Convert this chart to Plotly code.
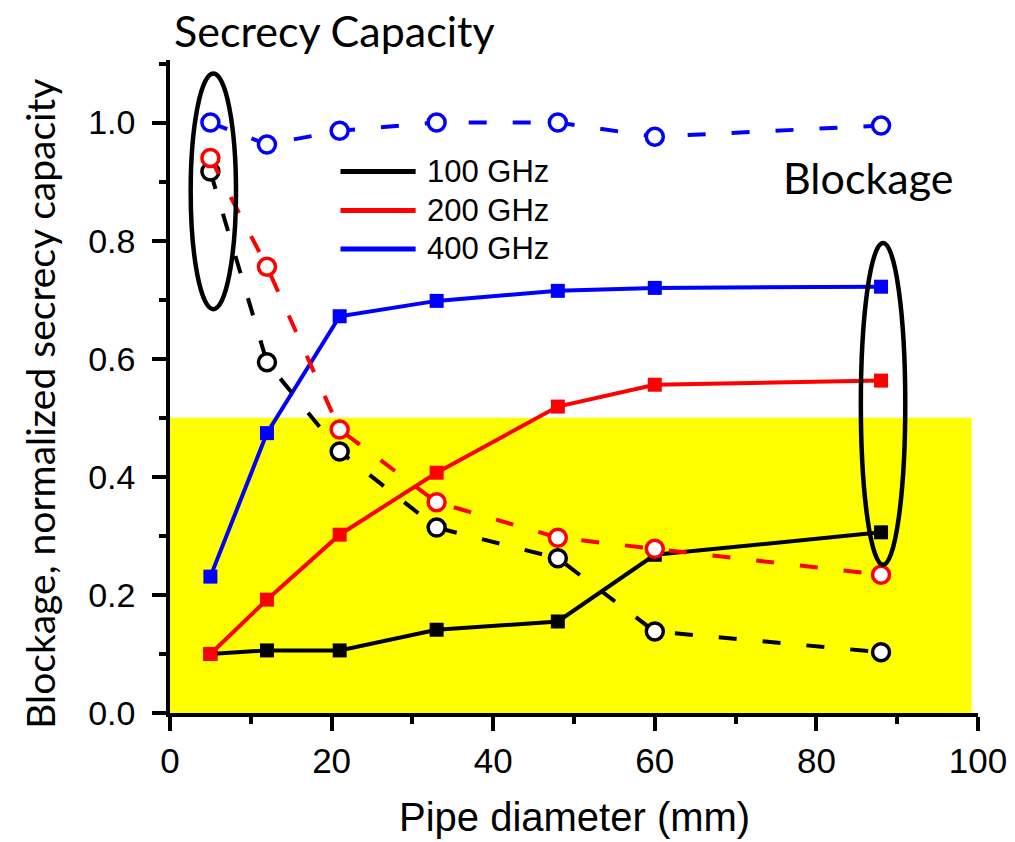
import plotly.graph_objects as go

# ---------------- data ----------------
diameter_mm = [5, 12, 21, 33, 48, 60, 88]

blockage_100 = [0.100, 0.106, 0.106, 0.141, 0.155, 0.268, 0.306]
blockage_200 = [0.100, 0.192, 0.302, 0.407, 0.519, 0.556, 0.563]
blockage_400 = [0.231, 0.474, 0.672, 0.698, 0.715, 0.720, 0.722]

secrecy_100 = [0.917, 0.594, 0.443, 0.314, 0.262, 0.138, 0.103]
secrecy_200 = [0.940, 0.756, 0.480, 0.357, 0.297, 0.278, 0.234]
secrecy_400 = [1.000, 0.963, 0.986, 1.000, 1.000, 0.976, 0.995]

legend_labels = ["100 GHz", "200 GHz", "400 GHz"]
colors = ["#000000", "#FF0000", "#0000FF"]

x_ticks = [0, 20, 40, 60, 80, 100]
y_ticks = [0.0, 0.2, 0.4, 0.6, 0.8, 1.0]

ARIAL = "Liberation Sans, Arial, sans-serif"
CAL = "Lato, Carlito, Calibri, sans-serif"

fig = go.Figure()

# blockage (solid, filled squares)
for yv, c in zip([blockage_100, blockage_200, blockage_400], colors):
    fig.add_trace(go.Scatter(
        x=diameter_mm, y=yv, mode="lines+markers",
        line=dict(color=c, width=4),
        marker=dict(symbol="square", size=14, color=c, line=dict(width=0)),
        showlegend=False, hoverinfo="skip"))

# secrecy capacity (dashed, open circles)
for yv, c in zip([secrecy_100, secrecy_200, secrecy_400], colors):
    fig.add_trace(go.Scatter(
        x=diameter_mm, y=yv, mode="lines+markers",
        line=dict(color=c, width=4, dash="18px,26px"),
        marker=dict(symbol="circle", size=17, color="white",
                    line=dict(color=c, width=3.5)),
        showlegend=False, hoverinfo="skip"))

shapes = []
# yellow region
shapes.append(dict(type="rect", xref="x", yref="y", x0=0, x1=99.2, y0=0, y1=0.5,
                   fillcolor="#FFFF00", line=dict(width=0), layer="below"))
# ellipses
shapes.append(dict(type="circle", xref="x", yref="y", x0=2.56, x1=8.17, y0=0.684, y1=1.083,
                   line=dict(color="black", width=4.5), layer="above"))
shapes.append(dict(type="circle", xref="x", yref="y", x0=85.5, x1=91.0, y0=0.251, y1=0.796,
                   line=dict(color="black", width=4.5), layer="above"))

# manual legend
legend_y = [0.917, 0.851, 0.786]
annotations = []
for lab, c, ly in zip(legend_labels, colors, legend_y):
    shapes.append(dict(type="line", xref="x", yref="y", x0=21.1, x1=30.4, y0=ly, y1=ly,
                       line=dict(color=c, width=5)))
    annotations.append(dict(text=lab, xref="x", yref="y", x=31.6, y=ly, xanchor="left",
                            yanchor="middle", showarrow=False,
                            font=dict(family=ARIAL, size=31, color="black")))

def py(p):
    return (713.3 - p) / 653.3

annotations += [
    dict(text="Secrecy Capacity", xref="paper", yref="paper", x=(334 - 170) / 808, y=py(30),
         xanchor="center", yanchor="middle", showarrow=False,
         font=dict(family=CAL, size=43, color="black")),
    dict(text="Blockage", xref="paper", yref="paper", x=(868 - 170) / 808, y=py(178),
         xanchor="center", yanchor="middle", showarrow=False,
         font=dict(family=CAL, size=43, color="black")),
    dict(text="Blockage, normalized secrecy capacity", xref="paper", yref="paper",
         x=(40 - 170) / 808, y=py(404), textangle=-90,
         xanchor="center", yanchor="middle", showarrow=False,
         font=dict(family=CAL, size=39, color="black")),
    dict(text="Pipe diameter (mm)", xref="paper", yref="paper", x=(574 - 170) / 808, y=py(817),
         xanchor="center", yanchor="middle", showarrow=False,
         font=dict(family=ARIAL, size=40, color="black")),
]

fig.update_layout(
    width=1015, height=842,
    margin=dict(l=170, r=37, t=60, b=128.7, autoexpand=False),
    paper_bgcolor="white", plot_bgcolor="white",
    shapes=shapes, annotations=annotations,
    showlegend=False,
)
fig.update_xaxes(
    range=[0, 100], tickvals=x_ticks, ticktext=[str(v) for v in x_ticks],
    showgrid=False, zeroline=False, showline=True, linecolor="black", linewidth=3.5,
    ticks="outside", ticklen=14, tickwidth=3.5, tickcolor="black",
    minor=dict(dtick=10, tick0=0, ticks="outside", ticklen=7, tickwidth=3.5, tickcolor="black"),
    tickfont=dict(family=ARIAL, size=35, color="black"),
)
fig.update_yaxes(
    range=[0, 1.106], tickvals=y_ticks, ticktext=[f"{v:.1f}" for v in y_ticks],
    showgrid=False, zeroline=False, showline=True, linecolor="black", linewidth=3.5,
    ticks="outside", ticklen=14, tickwidth=3.5, tickcolor="black",
    minor=dict(dtick=0.1, tick0=0, ticks="outside", ticklen=7, tickwidth=3.5, tickcolor="black"),
    tickfont=dict(family=ARIAL, size=34, color="black"),
    ticklabelstandoff=10,
)

fig.write_html("out.html", config={"displayModeBar": False},
               post_script="document.body.style.margin='0';document.body.style.overflow='hidden';")
